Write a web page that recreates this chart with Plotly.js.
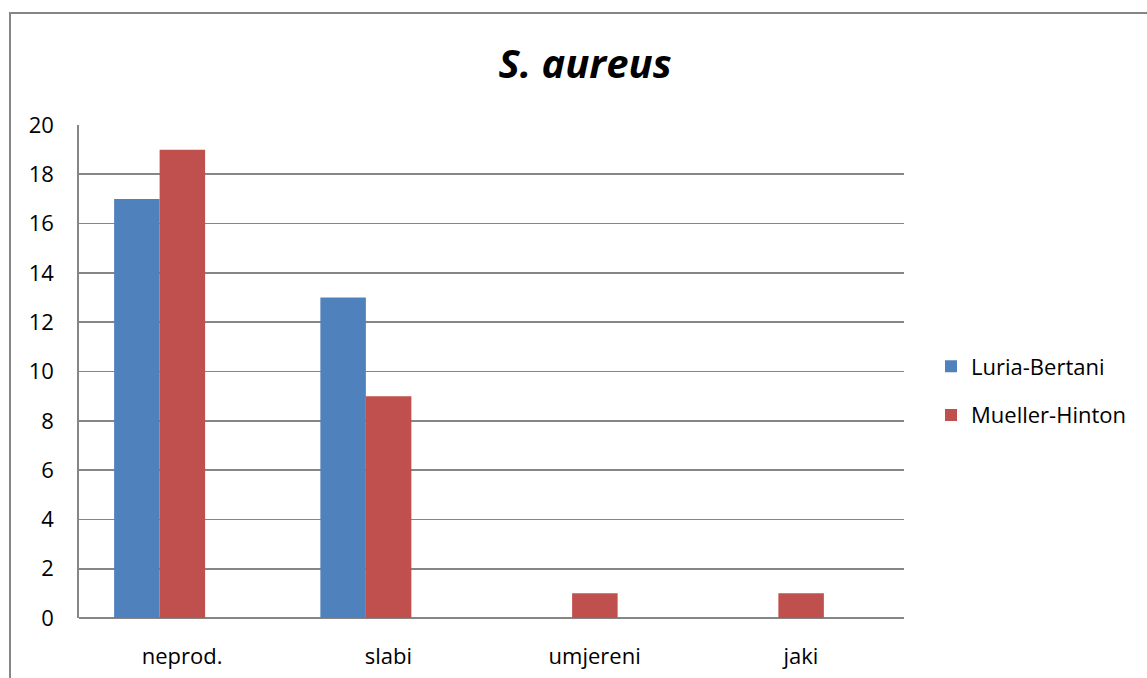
<!DOCTYPE html>
<html><head><meta charset="utf-8">
<script src="https://cdn.plot.ly/plotly-3.0.1.min.js"></script>
<style>
html,body{margin:0;padding:0;background:#fff;overflow:hidden}
#chart{width:1147px;height:678px;position:absolute;left:0;top:0}
#frame{position:absolute;left:9px;top:12px;width:1200px;height:800px;border:2px solid #868686;pointer-events:none}
</style></head>
<body>
<div id="chart"></div>
<div id="frame"></div>
<script>
const categories = ["neprod.", "slabi", "umjereni", "jaki"];
const luriaBertani = [17, 13, 0, 0];
const muellerHinton = [19, 9, 1, 1];
const yTicks = [0, 2, 4, 6, 8, 10, 12, 14, 16, 18, 20];

const font = "'Open Sans', Lato, sans-serif";
const barWidth = 0.2206;
const traces = [
  {type:"bar", name:"Luria-Bertani", legendgroup:"lb", x:categories, y:luriaBertani,
   width:barWidth, offset:-0.3297, marker:{color:"#4F81BD"}},
  {type:"bar", name:"Mueller-Hinton", legendgroup:"mh", x:categories, y:muellerHinton,
   width:barWidth, offset:-0.1091, marker:{color:"#C0504D"}}
];
const layout = {
  width:1147, height:678,
  margin:{l:79, r:243, t:125, b:60},
  paper_bgcolor:"#fff", plot_bgcolor:"#fff",
  font:{family:font, size:22, color:"#000"},
  title:{text:"<b><i>S. aureus</i></b>", x:585/1147, xref:"container", xanchor:"center",
         y:1-64/678, yref:"container", yanchor:"middle", font:{size:40, family:font, color:"#000"}},
  barmode:"overlay",
  xaxis:{type:"category", range:[-0.5,3.5], showline:false, showgrid:false, ticks:"", tickfont:{size:22}, ticklabelstandoff:23},
  yaxis:{range:[0,20], tickvals:yTicks, showgrid:true, gridcolor:"#868686", gridwidth:1.7,
         showline:true, linecolor:"#868686", linewidth:1.7, zeroline:true, zerolinecolor:"#868686", zerolinewidth:1.7,
         ticks:"", tickfont:{size:22}, ticklabelstandoff:19},
  legend:{x:(931-79)/825, xanchor:"left", xref:"paper", y:(618-391)/493, yanchor:"middle", font:{size:22},
          itemwidth:30, tracegroupgap:17, traceorder:"grouped", bgcolor:"rgba(0,0,0,0)"},
  showlegend:true
};
Plotly.newPlot("chart", traces, layout, {displayModeBar:false, staticPlot:true});
</script>
</body></html>
